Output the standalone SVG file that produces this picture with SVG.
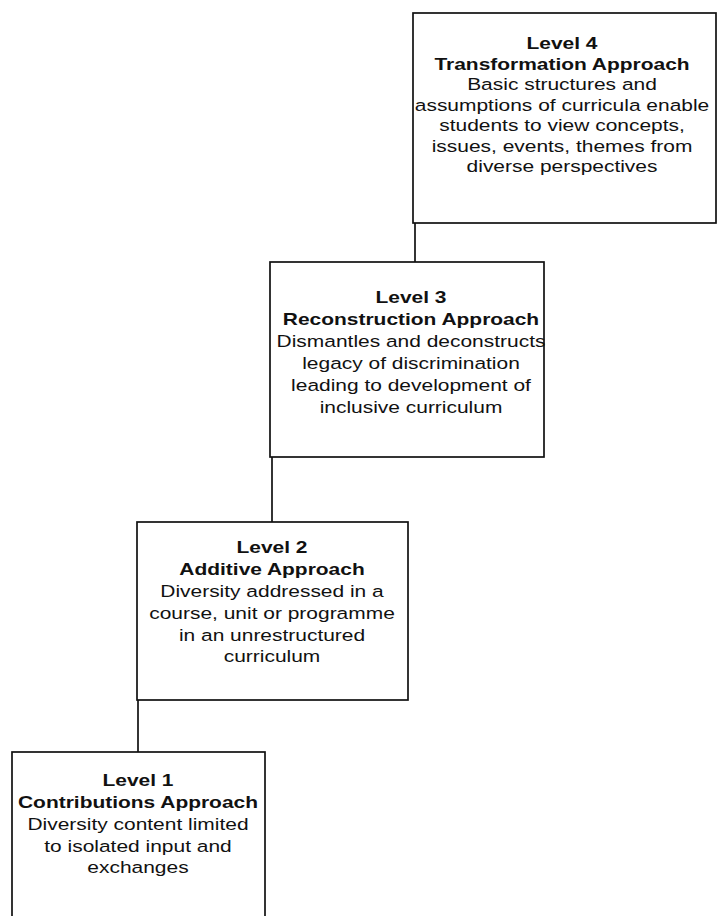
<svg xmlns="http://www.w3.org/2000/svg" width="718" height="916" viewBox="0 0 718 916">
<style>
.box{fill:#fff;stroke:#111;stroke-width:1.7}
.conn{fill:none;stroke:#111;stroke-width:1.7}
text{font-family:"Liberation Sans",Arial,sans-serif;font-size:16.5px;fill:#111;text-anchor:middle}
.b{font-weight:bold}
</style>
<rect width="718" height="916" fill="#fff"/>
<g id="connectors">
<line class="conn" x1="415" y1="223" x2="415" y2="263"/>
<line class="conn" x1="272" y1="457" x2="272" y2="522"/>
<line class="conn" x1="138" y1="700" x2="138" y2="752"/>
</g>
<g id="level4">
<rect class="box" x="413" y="13" width="303" height="210"/>
<g transform="translate(562,0) scale(1.27,1)">
<text class="b" x="0" y="49">Level 4</text>
<text class="b" x="0" y="70">Transformation Approach</text>
<text x="0" y="90">Basic structures and</text>
<text x="0" y="111">assumptions of curricula enable</text>
<text x="0" y="131">students to view concepts,</text>
<text x="0" y="152">issues, events, themes from</text>
<text x="0" y="172">diverse perspectives</text>
</g>
</g>
<g id="level3">
<rect class="box" x="270" y="262" width="274" height="195"/>
<g transform="translate(411,0) scale(1.27,1)">
<text class="b" x="0" y="303">Level 3</text>
<text class="b" x="0" y="325">Reconstruction Approach</text>
<text x="0" y="347">Dismantles and deconstructs</text>
<text x="0" y="369">legacy of discrimination</text>
<text x="0" y="391">leading to development of</text>
<text x="0" y="413">inclusive curriculum</text>
</g>
</g>
<g id="level2">
<rect class="box" x="137" y="522" width="271" height="178"/>
<g transform="translate(272,0) scale(1.27,1)">
<text class="b" x="0" y="553">Level 2</text>
<text class="b" x="0" y="575">Additive Approach</text>
<text x="0" y="597">Diversity addressed in a</text>
<text x="0" y="619">course, unit or programme</text>
<text x="0" y="641">in an unrestructured</text>
<text x="0" y="662">curriculum</text>
</g>
</g>
<g id="level1">
<rect class="box" x="12" y="752" width="253" height="180"/>
<g transform="translate(138,0) scale(1.27,1)">
<text class="b" x="0" y="786">Level 1</text>
<text class="b" x="0" y="808">Contributions Approach</text>
<text x="0" y="830">Diversity content limited</text>
<text x="0" y="852">to isolated input and</text>
<text x="0" y="873">exchanges</text>
</g>
</g>
</svg>
